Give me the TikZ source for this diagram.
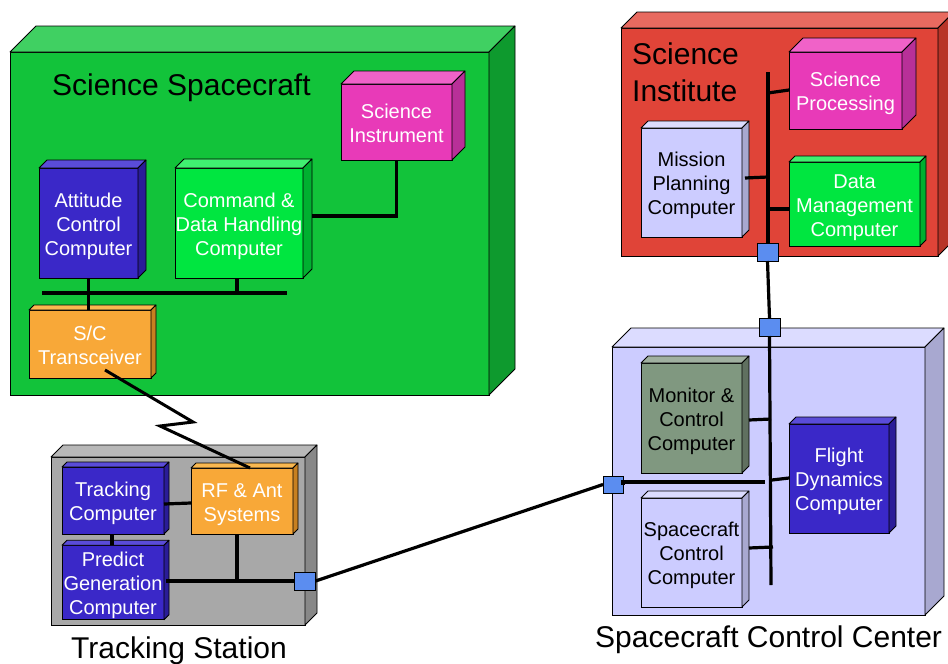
\documentclass[tikz,border=0pt]{standalone}
\usepackage{fontspec}
\setmainfont{Liberation Sans}
\usetikzlibrary{calc}
\definecolor{grnfront}{HTML}{12C33A}\definecolor{grntop}{HTML}{40D062}\definecolor{grnside}{HTML}{0E9A2E}
\definecolor{lgfront}{HTML}{00E640}\definecolor{lgtop}{HTML}{40F070}\definecolor{lgside}{HTML}{00B030}
\definecolor{blufront}{HTML}{3A28C8}\definecolor{blutop}{HTML}{5A4CD8}\definecolor{bluside}{HTML}{2A1C98}
\definecolor{magfront}{HTML}{E83AB8}\definecolor{magtop}{HTML}{F062C8}\definecolor{magside}{HTML}{B83098}
\definecolor{orgfront}{HTML}{F8A838}\definecolor{orgtop}{HTML}{FAB850}\definecolor{orgside}{HTML}{C88020}
\definecolor{redfront}{HTML}{E04438}\definecolor{redtop}{HTML}{E86A60}\definecolor{redside}{HTML}{B83428}
\definecolor{lavfront}{HTML}{CCCCFF}\definecolor{lavtop}{HTML}{DCDCFF}\definecolor{lavside}{HTML}{A8A8D0}
\definecolor{gryfront}{HTML}{A8A8A8}\definecolor{grytop}{HTML}{B8B8B8}\definecolor{gryside}{HTML}{888888}
\definecolor{ggrfront}{HTML}{809880}\definecolor{ggrtop}{HTML}{A0B0A0}\definecolor{ggrside}{HTML}{607060}
\definecolor{sqblue}{HTML}{5B8DF0}
\newcommand{\bxfont}{\fontsize{20}{24}\selectfont}
\newcommand{\lblfont}{\fontsize{30}{37}\selectfont}
\newcommand{\fs}{\rule{0pt}{21.5pt}}
\newcommand{\ls}{\rule[-5pt]{0pt}{5pt}}
\newcommand{\boxfaces}[3]{%
  \filldraw[fill=#3top, edge] (#1.north west) -- ++(#2,-#2) -- ($(#1.north east)+(#2,-#2)$) -- (#1.north east) -- cycle;
  \filldraw[fill=#3side, edge] (#1.north east) -- ++(#2,-#2) -- ($(#1.south east)+(#2,-#2)$) -- (#1.south east) -- cycle;
}
\begin{document}
\begin{tikzpicture}[x=1pt,y=-1pt,
  edge/.style={draw=black, line width=0.8pt, line join=round},
  cbox/.style={draw=black, line width=0.8pt, inner sep=0pt, outer sep=0pt, align=center, font=\bxfont},
  lbl/.style={inner sep=0pt, font=\lblfont, text=black},
  wire/.style={draw=black, line width=3.2pt},
  sq/.style={draw=black, line width=0.8pt, fill=sqblue, inner sep=0pt, outer sep=0pt, minimum width=21, minimum height=18}]
\clip (0,0) rectangle (948,664);
\fill[white] (0,0) rectangle (948,664);

% ---------- Science Spacecraft ----------
\node[cbox, fill=grnfront, minimum width=479, minimum height=343] (ss) at (249.5,223.5) {};
\boxfaces{ss}{26}{grn}
\node[lbl, anchor=west] (sslbl) at (52,88) {Science Spacecraft};
\node[cbox, fill=magfront, text=white, minimum width=111, minimum height=76] (sci) at (396.5,122) {\fs Science\\Instrument\ls};
\boxfaces{sci}{13}{mag}
\node[cbox, fill=blufront, text=white, minimum width=99, minimum height=110] (acc) at (88.5,223) {\fs Attitude\\Control\\Computer\ls};
\boxfaces{acc}{8}{blu}
\node[cbox, fill=lgfront, text=white, minimum width=128, minimum height=110] (cdh) at (239,223) {\fs Command \&\\Data Handling\\Computer\ls};
\boxfaces{cdh}{9}{lg}
\node[cbox, fill=orgfront, text=white, minimum width=122, minimum height=68] (trx) at (90,344) {\fs S/C\\Transceiver\ls};
\boxfaces{trx}{5}{org}

% ---------- Science Institute ----------
\node[cbox, fill=redfront, minimum width=317, minimum height=228] (si) at (779.5,142) {};
\boxfaces{si}{16}{red}
\node[lbl, anchor=west, align=left] (silbl) at (632,72.5) {Science\\Institute};
\node[cbox, fill=magfront, text=white, minimum width=113, minimum height=77] (sp) at (845.5,90.5) {\fs Science\\Processing\ls};
\boxfaces{sp}{14}{mag}
\node[cbox, fill=lavfront, text=black, minimum width=101, minimum height=109] (mp) at (691.5,182.5) {\fs Mission\\Planning\\Computer\ls};
\boxfaces{mp}{7}{lav}
\node[cbox, fill=lgfront, text=white, minimum width=131, minimum height=84] (dm) at (854.5,204) {\fs Data\\Management\\Computer\ls};
\boxfaces{dm}{6}{lg}

% ---------- Tracking Station ----------
\node[cbox, fill=gryfront, minimum width=254, minimum height=168] (ts) at (178,541) {};
\boxfaces{ts}{12}{gry}
\node[lbl] (tslbl) at (179,651) {Tracking Station};
\node[cbox, fill=blufront, text=white, minimum width=102, minimum height=67] (tc) at (113,500.5) {\fs Tracking\\Computer\ls};
\boxfaces{tc}{5}{blu}
\node[cbox, fill=orgfront, text=white, minimum width=102, minimum height=66] (rf) at (242,501) {\fs RF \& Ant\\Systems\ls};
\boxfaces{rf}{5}{org}
\node[cbox, fill=blufront, text=white, minimum width=102, minimum height=69] (pg) at (113,582.5) {\fs Predict\\Generation\\Computer\ls};
\boxfaces{pg}{5}{blu}

% ---------- Spacecraft Control Center ----------
\node[cbox, fill=lavfront, minimum width=313, minimum height=268] (scc) at (768.5,481) {};
\boxfaces{scc}{19}{lav}
\node[lbl, anchor=west] (scclbl) at (595,640) {Spacecraft Control Center};
\node[cbox, fill=ggrfront, text=black, minimum width=101, minimum height=110] (mc) at (691.5,418) {\fs Monitor \&\\Control\\Computer\ls};
\boxfaces{mc}{7}{ggr}
\node[cbox, fill=blufront, text=white, minimum width=100, minimum height=109] (fd) at (839,478.5) {\fs Flight\\Dynamics\\Computer\ls};
\boxfaces{fd}{7}{blu}
\node[cbox, fill=lavfront, text=black, minimum width=101, minimum height=109] (scx) at (691.5,552.5) {\fs Spacecraft\\Control\\Computer\ls};
\boxfaces{scx}{7}{lav}

% ---------- junction squares ----------
\node[sq] (sqts) at (305,581) {};
\node[sq] (sqsi) at (767.5,252) {};
\node[sq] (sqscct) at (769.5,327) {};
\node[sq, minimum width=20, minimum height=17] (sqsccl) at (613,484.5) {};

% ---------- connectors: spacecraft ----------
\coordinate (busL) at (42,293);
\coordinate (busR) at (287,293);
\draw[wire] (busL) -- (busR);
\draw[wire] (acc.south) -- (acc.south |- trx.north);
\draw[wire] ($(cdh.south)+(-2,0)$) -- ($(cdh.south |- busL)+(-2,0)$);
\coordinate (cdhR) at (312,216);
\draw[wire] (sci.south) |- (cdhR);
\coordinate (zA) at (193,422);
\coordinate (zB) at (160,426);
\draw[draw=black, line width=3pt, line join=miter] ($(trx.south)+(15,-8)$) -- (zA) -- (zB) -- ($(rf.north)+(8,0)$);

% ---------- connectors: tracking station ----------
\draw[wire] (tc.east |- 0,504) -- (rf.west |- 0,503);
\draw[wire] ($(tc.south)+(-1,0)$) -- ($(pg.north)+(-1,0)$);
\coordinate (rfdrop) at (237,581);
\draw[wire] (rf.south -| rfdrop) -- (rfdrop);
\draw[wire] ($(pg.east |- sqts)+(2,0)$) -- (sqts.west);
\draw[wire] (sqts.east) -- (sqsccl.west);

% ---------- connectors: science institute ----------
\coordinate (sitop) at (768,72);
\draw[wire] (sitop) -- (sitop |- sqsi.north);
\draw[wire] (sitop |- 0,93) -- (sp.west |- 0,90);
\draw[wire] ($(mp.east |- 0,178)+(3,0)$) -- (sitop |- 0,177);
\draw[wire] (sitop |- 0,209) -- (dm.west |- 0,209);

% ---------- connectors: control center ----------
\draw[wire] (sqsi.south) -- (sqscct.north);
\coordinate (sccbot) at (771,585);
\draw[wire] (sqscct.south) -- (sccbot);
\draw[wire] ($(mc.east |- 0,420)+(7,0)$) -- (sccbot |- 0,419);
\draw[wire] ($(scx.east |- 0,548)+(7,0)$) -- ($(sccbot |- 0,547)+(2,0)$);
\coordinate (hEnd) at (765,482);
\draw[wire] (sqsccl.east) -- (sqsccl.east |- hEnd) -- (hEnd);
\draw[wire] ($(sccbot |- 0,480)+(1,0)$) -- (fd.west |- 0,478);
\end{tikzpicture}
\end{document}
